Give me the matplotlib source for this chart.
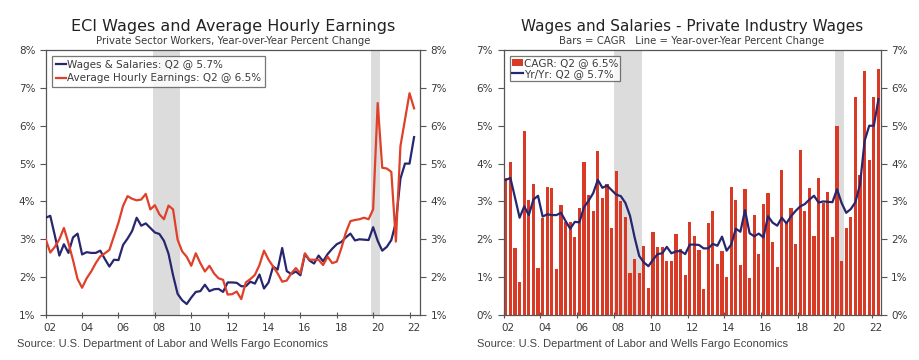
import matplotlib
matplotlib.use("Agg")
import matplotlib.pyplot as plt
import matplotlib.transforms as mtrans
import numpy as np

# quarterly data 2002Q1 - 2022Q2
ws_yoy = [3.57, 3.62, 3.10, 2.57, 2.87, 2.64, 3.05, 3.15, 2.60, 2.66,
          2.64, 2.64, 2.70, 2.48, 2.28, 2.46, 2.45, 2.85, 3.02, 3.22,
          3.57, 3.36, 3.42, 3.30, 3.18, 3.14, 2.96, 2.62, 2.05, 1.56,
          1.39, 1.29, 1.46, 1.61, 1.63, 1.80, 1.63, 1.68, 1.69, 1.61,
          1.86, 1.86, 1.85, 1.76, 1.76, 1.88, 1.83, 2.07, 1.70, 1.86,
          2.28, 2.20, 2.77, 2.16, 2.08, 2.15, 2.05, 2.61, 2.44, 2.36,
          2.57, 2.42, 2.61, 2.75, 2.87, 2.93, 3.05, 3.15, 2.97, 3.00,
          2.99, 2.98, 3.32, 2.96, 2.70, 2.80, 2.98, 3.45, 4.60, 5.00,
          5.00, 5.70]

ahe_yoy = [3.00, 2.65, 2.80, 3.00, 3.30, 2.90, 2.45, 1.95, 1.72, 1.97,
           2.15, 2.37, 2.55, 2.63, 2.72, 3.08, 3.44, 3.88, 4.14, 4.07,
           4.03, 4.05, 4.20, 3.79, 3.90, 3.66, 3.53, 3.89, 3.79, 2.99,
           2.68, 2.54, 2.30, 2.63, 2.37, 2.15, 2.30, 2.10, 1.97, 1.93,
           1.54, 1.55, 1.62, 1.42, 1.86, 1.95, 2.06, 2.32, 2.70, 2.46,
           2.28, 2.10, 1.88, 1.91, 2.10, 2.24, 2.10, 2.63, 2.46, 2.46,
           2.46, 2.32, 2.54, 2.37, 2.41, 2.76, 3.18, 3.48, 3.51, 3.53,
           3.57, 3.53, 3.79, 6.60, 4.89, 4.87, 4.78, 2.94, 5.46, 6.16,
           6.86, 6.46]

ws_cagr = [3.62, 4.03, 1.76, 0.87, 4.85, 3.03, 3.45, 1.25, 2.57, 3.38,
           3.36, 1.22, 2.90, 2.45, 2.45, 2.05, 2.83, 4.04, 3.18, 2.76,
           4.32, 3.10, 3.46, 2.30, 3.80, 3.00, 2.60, 1.10, 1.47, 1.10,
           1.82, 0.72, 2.20, 1.80, 1.80, 1.42, 1.42, 2.13, 1.75, 1.05,
           2.47, 2.10, 1.73, 0.68, 2.43, 2.76, 1.36, 1.70, 1.00, 3.39,
           3.03, 1.32, 3.33, 0.97, 2.64, 1.61, 2.94, 3.23, 1.92, 1.26,
           3.83, 2.45, 2.82, 1.87, 4.35, 2.76, 3.36, 2.10, 3.61, 2.95,
           3.25, 2.05, 5.00, 1.43, 2.29, 2.58, 5.75, 3.70, 6.45, 4.10,
           5.75, 6.50]

year_labels = ["02", "04", "06", "08", "10", "12", "14", "16", "18", "20", "22"]
recessions = [(23.5, 29.5), (71.5, 73.5)]

NAVY = "#27266e"
RED = "#e0402a"
BAR_RED = "#d83a26"
SHADE = "#dcdcdc"
TXT = "#3a3a3a"

fig = plt.figure(figsize=(9.2, 3.6), dpi=100)
x = np.arange(len(ws_yoy))
label_shift = mtrans.ScaledTranslation(0.045, 0, fig.dpi_scale_trans)


def style_axes(ax, ticks):
    for s in ax.spines.values():
        s.set_color("#555555")
        s.set_linewidth(0.9)
    ax.set_xticks(ticks)
    ax.set_xticklabels(year_labels)
    ax.tick_params(axis="y", which="both", direction="out", length=4,
                   labelsize=7.5, labelcolor=TXT, color="#555555",
                   left=True, right=True, labelleft=True, labelright=True)
    ax.tick_params(axis="x", direction="inout", length=5, labelsize=7.5,
                   labelcolor=TXT, color="#555555", pad=3)
    for lab in ax.get_xticklabels():
        lab.set_transform(lab.get_transform() + label_shift)
    for (a, b) in recessions:
        ax.axvspan(a, b, color=SHADE, lw=0, zorder=0)


def style_legend(leg):
    leg.get_frame().set_edgecolor("#555555")
    leg.get_frame().set_linewidth(0.9)
    for t in leg.get_texts():
        t.set_color(TXT)


# ---- left chart ----
ax1 = fig.add_axes([0.0497, 0.125, 0.4068, 0.736])
ax1.plot(x, ws_yoy, color=NAVY, lw=1.6, label="Wages & Salaries: Q2 @ 5.7%", zorder=3)
ax1.plot(x, ahe_yoy, color=RED, lw=1.6, label="Average Hourly Earnings: Q2 @ 6.5%", zorder=3)
ax1.set_xlim(0, 82.3)
ax1.set_ylim(1, 8)
ax1.set_yticks(np.arange(1, 9))
ax1.set_yticklabels([f"{v}%" for v in range(1, 9)])
style_axes(ax1, np.arange(0, 81, 8))
leg1 = ax1.legend(loc="upper left", bbox_to_anchor=(0.012, 0.985), fontsize=7.5,
                  frameon=True, fancybox=False, handlelength=1.0, handletextpad=0.1,
                  borderpad=0.35, labelspacing=0.35, borderaxespad=0.2)
style_legend(leg1)

fig.text(0.253, 0.915, "ECI Wages and Average Hourly Earnings", ha="center",
         va="baseline", fontsize=11.5, color="#222222")
fig.text(0.253, 0.879, "Private Sector Workers, Year-over-Year Percent Change",
         ha="center", va="baseline", fontsize=7.3, color=TXT)
fig.text(0.018, 0.035, "Source: U.S. Department of Labor and Wells Fargo Economics",
         fontsize=8, color="#444444", family="Liberation Sans")

# ---- right chart ----
ax2 = fig.add_axes([0.5473, 0.125, 0.41, 0.736])
bars = ax2.bar(x, ws_cagr, width=0.66, color=BAR_RED, lw=0,
               label="CAGR: Q2 @ 6.5%", zorder=2)
line, = ax2.plot(x, ws_yoy, color=NAVY, lw=1.6, label="Yr/Yr: Q2 @ 5.7%", zorder=3)
ax2.set_xlim(-0.5, 81.5)
ax2.set_ylim(0, 7)
ax2.set_yticks(np.arange(0, 8))
ax2.set_yticklabels([f"{v}%" for v in range(0, 8)])
style_axes(ax2, np.arange(0, 81, 8) - 0.5)
leg2 = ax2.legend(handles=[bars, line], loc="upper left", bbox_to_anchor=(0.012, 0.985),
                  fontsize=7.5, frameon=True, fancybox=False, handlelength=1.0,
                  handleheight=0.6, handletextpad=0.1, borderpad=0.2,
                  labelspacing=0.05, borderaxespad=0.2)
style_legend(leg2)

fig.text(0.752, 0.915, "Wages and Salaries - Private Industry Wages", ha="center",
         va="baseline", fontsize=11, color="#222222")
fig.text(0.752, 0.879, "Bars = CAGR   Line = Year-over-Year Percent Change",
         ha="center", va="baseline", fontsize=7.3, color=TXT)
fig.text(0.518, 0.035, "Source: U.S. Department of Labor and Wells Fargo Economics",
         fontsize=8, color="#444444", family="Liberation Sans")

fig.savefig("out.png", dpi=100, facecolor="white")
